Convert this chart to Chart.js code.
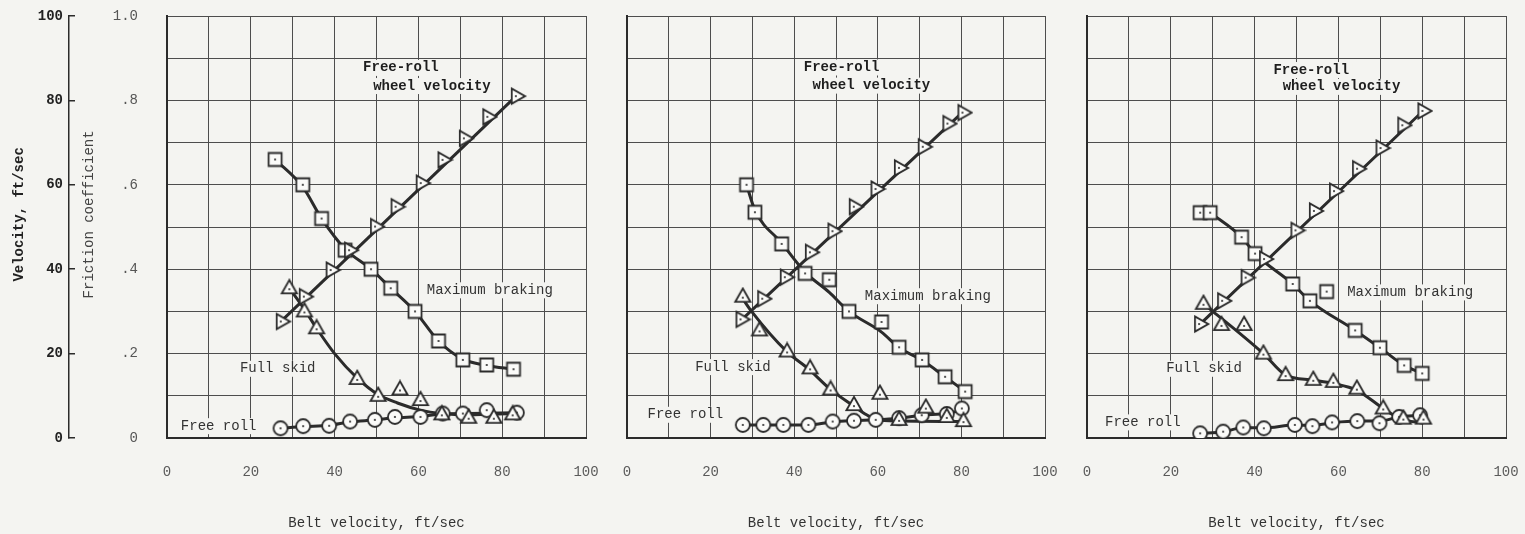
<!DOCTYPE html>
<html>
<head>
<meta charset="utf-8">
<script src="https://cdn.jsdelivr.net/npm/chart.js@4.4.1/dist/chart.umd.min.js"></script>
<style>
  body { margin: 0; background: #f4f4f1; width: 1525px; height: 534px; overflow: hidden; position: relative; }
  canvas { position: absolute; top: 0; }
</style>
</head>
<body>
<canvas id="panel1" width="600" height="534" style="left:0px"></canvas>
<canvas id="panel2" width="450" height="534" style="left:610px"></canvas>
<canvas id="panel3" width="455" height="534" style="left:1070px"></canvas>
<script>
// measured points: belt velocity (ft/sec) against wheel velocity (ft/sec) or friction coefficient
const p1WheelX = [27.4, 32.9, 39.3, 43.7, 49.9, 54.8, 60.8, 66.0, 71.1, 76.7, 83.5];
const p1WheelY = [27.6, 33.5, 39.8, 44.5, 50.1, 54.8, 60.4, 65.9, 71.0, 76.1, 81.0];
const p1BrakeX = [25.8, 32.4, 36.9, 42.5, 48.7, 53.4, 59.2, 64.8, 70.6, 76.3, 82.7];
const p1BrakeY = [.66, .60, .52, .445, .40, .355, .30, .23, .185, .173, .163];
const p1SkidX = [29.2, 32.8, 35.7, 45.4, 50.4, 55.6, 60.5, 65.6, 72.0, 78.0, 82.5];
const p1SkidY = [.355, .30, .26, .14, .10, .115, .09, .056, .048, .048, .056];
const p1FreeX = [27.1, 32.5, 38.7, 43.7, 49.6, 54.4, 60.5, 65.8, 70.6, 76.3, 83.5];
const p1FreeY = [.023, .028, .029, .039, .043, .05, .05, .058, .058, .066, .06];

const p2WheelX = [27.4, 32.6, 38.0, 44.0, 49.4, 54.5, 59.7, 65.3, 71.0, 76.9, 80.5];
const p2WheelY = [28.1, 33.0, 38.1, 44.0, 49.0, 54.8, 59.0, 64.0, 69.0, 74.5, 77.1];
const p2BrakeX = [28.6, 30.6, 37.0, 42.6, 48.4, 53.1, 60.9, 65.1, 70.6, 76.1, 80.9];
const p2BrakeY = [.60, .535, .46, .39, .375, .30, .275, .215, .185, .145, .11];
const p2SkidX = [27.7, 31.7, 38.3, 43.8, 48.7, 54.3, 60.5, 65.1, 71.5, 76.5, 80.5];
const p2SkidY = [.335, .255, .205, .165, .115, .078, .105, .043, .072, .05, .04];
const p2FreeX = [27.7, 32.6, 37.4, 43.4, 49.2, 54.3, 59.5, 65.1, 70.5, 76.5, 80.1];
const p2FreeY = [.031, .031, .031, .031, .039, .041, .043, .047, .054, .057, .07];

const p3WheelX = [27.0, 32.5, 38.1, 42.5, 50.0, 54.4, 59.2, 64.7, 70.3, 75.5, 80.3];
const p3WheelY = [27.0, 32.5, 38.0, 42.4, 49.2, 53.8, 58.5, 63.8, 68.7, 74.1, 77.5];
const p3BrakeX = [27.0, 29.4, 36.9, 40.1, 49.1, 53.2, 57.2, 64.0, 69.9, 75.7, 80.0];
const p3BrakeY = [.534, .534, .476, .437, .365, .325, .347, .255, .214, .172, .153];
const p3SkidX = [27.8, 32.1, 37.5, 42.1, 47.4, 54.0, 58.8, 64.4, 70.7, 75.5, 80.3];
const p3SkidY = [.318, .268, .268, .20, .149, .138, .133, .117, .07, .046, .046];
const p3FreeX = [27.0, 32.5, 37.3, 42.2, 49.6, 53.8, 58.5, 64.5, 69.8, 74.5, 79.5];
const p3FreeY = [.011, .015, .025, .023, .031, .028, .037, .04, .035, .05, .054];

// faired curves through the test points
const p1WheelCurve = [[27.4, 27.8], [83.5, 81.2]];
const p1BrakeCurve = [[25.8, .66], [32.4, .595], [36.9, .52], [42.5, .448], [48.7, .40], [53.4, .355], [59.2, .30], [64.8, .23], [70.6, .187], [76.3, .172], [82.7, .163]];
const p1SkidCurve = [[29.2, .355], [32.8, .305], [35.7, .26], [40, .20], [45.4, .142], [50.4, .103], [55, .083], [60.5, .066], [65.6, .058], [72, .055], [82.7, .058]];
const p1FreeCurve = [[27.1, .023], [32.5, .027], [38.7, .03], [43.7, .038], [49.6, .043], [54.4, .048], [60.5, .051], [65.8, .057], [72, .058], [83.5, .06]];

const p2WheelCurve = [[27.4, 28], [80.5, 77.4]];
const p2BrakeCurve = [[28.6, .60], [30.6, .54], [37, .462], [42.6, .393], [48.4, .345], [53.1, .30], [60.9, .251], [65.1, .214], [70.6, .184], [76.1, .145], [80.9, .11]];
const p2SkidCurve = [[27.7, .33], [29.8, .30], [38.3, .204], [43.4, .164], [48.6, .116], [54.2, .076], [57.3, .055], [59.7, .043], [65, .04], [80.4, .039]];
const p2FreeCurve = [[27.7, .031], [43.4, .031], [49.2, .038], [54.3, .041], [59.5, .043], [65.1, .047], [70.5, .054], [76.5, .058], [80.1, .066]];

const p3WheelCurve = [[27, 27], [80.3, 77.6]];
const p3BrakeCurve = [[29.4, .534], [36.9, .476], [40.1, .437], [49.1, .365], [53.2, .325], [64, .255], [69.9, .214], [75.7, .172], [80, .153]];
const p3SkidCurve = [[27.8, .318], [29.8, .302], [42.1, .20], [47.4, .149], [54, .137], [58.8, .129], [64.4, .113], [70.7, .07], [74.7, .046], [80.3, .035]];
const p3FreeCurve = [[27, .011], [32.5, .015], [37.3, .024], [42.2, .024], [49.6, .031], [53.8, .03], [58.5, .036], [64.5, .04], [69.8, .04], [74.5, .05], [79.5, .054]];

const velocityTicks = [0, 20, 40, 60, 80, 100];
const frictionTicks = ['0', '.2', '.4', '.6', '.8', '1.0'];
const beltTicks = ['0', '20', '40', '60', '80', '100'];

// curve labels, placed in belt velocity / wheel velocity units
const notes1 = [
    { text: 'Free-roll', x: 46.8, y: 87.7, bold: true },
    { text: 'wheel velocity', x: 49.2, y: 83.4, bold: true },
    { text: 'Maximum braking', x: 62, y: 35 },
    { text: 'Full skid', x: 17.4, y: 16.4 },
    { text: 'Free roll', x: 3.3, y: 2.8 }
];
const notes2 = [
    { text: 'Free-roll', x: 42.3, y: 87.8, bold: true },
    { text: 'wheel velocity', x: 44.4, y: 83.5, bold: true },
    { text: 'Maximum braking', x: 56.9, y: 33.6 },
    { text: 'Full skid', x: 16.3, y: 16.8 },
    { text: 'Free roll', x: 4.9, y: 5.5 }
];
const notes3 = [
    { text: 'Free-roll', x: 44.5, y: 87.2, bold: true },
    { text: 'wheel velocity', x: 46.7, y: 83.2, bold: true },
    { text: 'Maximum braking', x: 62.1, y: 34.5 },
    { text: 'Full skid', x: 18.9, y: 16.4 },
    { text: 'Free roll', x: 4.3, y: 3.7 }
];

const paper = '#f4f4f1';
const ink = '#2b2b2b';
const gridInk = '#4d4d4d';
const mono = '"Liberation Mono", "DejaVu Sans Mono", monospace';

// open plotting symbols with a centre dot
function symbol(kind) {
    const c = document.createElement('canvas');
    c.width = c.height = 20;
    const g = c.getContext('2d');
    g.translate(10, 10);
    g.beginPath();
    if (kind === 'circle') g.arc(0, 0, 7, 0, Math.PI * 2);
    else if (kind === 'square') g.rect(-6.5, -6.5, 13, 13);
    else { g.moveTo(0, -8.2); g.lineTo(7.6, 5.2); g.lineTo(-7.6, 5.2); g.closePath(); }
    g.fillStyle = '#fbfbf9';
    g.fill();
    g.lineWidth = 1.8;
    g.strokeStyle = ink;
    g.stroke();
    g.beginPath();
    g.arc(0, kind === 'triangle' ? 1 : 0, 1.1, 0, Math.PI * 2);
    g.fillStyle = ink;
    g.fill();
    return c;
}
const circleSym = symbol('circle');
const squareSym = symbol('square');
const triangleSym = symbol('triangle');

const toPoints = (xs, ys) => xs.map((x, i) => ({ x: x, y: ys[i] }));
const toCurve = (pairs) => pairs.map(p => ({ x: p[0], y: p[1] }));

function markers(xs, ys, sym, axis, rotation) {
    return {
        data: toPoints(xs, ys), yAxisID: axis, showLine: false,
        pointStyle: sym, pointRadius: 7, rotation: rotation || 0, order: 0
    };
}
function curve(pairs, axis) {
    return {
        data: toCurve(pairs), yAxisID: axis, showLine: true, pointRadius: 0,
        borderColor: ink, borderWidth: 3, cubicInterpolationMode: 'monotone', order: 1
    };
}

function notesFor(items) {
    return {
        id: 'notes',
        beforeDatasetsDraw(chart) {
            const { ctx, scales } = chart;
            ctx.save();
            ctx.textBaseline = 'middle';
            ctx.textAlign = 'left';
            items.forEach(n => {
                ctx.font = (n.bold ? 'bold ' : '') + '14px ' + mono;
                const x = scales.x.getPixelForValue(n.x);
                const y = scales.vel.getPixelForValue(n.y);
                const w = ctx.measureText(n.text).width;
                ctx.fillStyle = paper;
                ctx.fillRect(x - 3, y - 8, w + 6, 16);
                ctx.fillStyle = n.bold ? '#1e1e1e' : '#333';
                ctx.fillText(n.text, x, y);
            });
            ctx.restore();
        }
    };
}

// keep the chart area where the layout padding puts it
function noEdgePadding(s) {
    s.paddingTop = 0;
    s.paddingBottom = 0;
    s.paddingLeft = 0;
    s.paddingRight = 0;
}

function panel(id, sets, notes, withAxes, pad) {
    const datasets = [
        markers(sets.wheel[0], sets.wheel[1], triangleSym, 'vel', 90),
        markers(sets.brake[0], sets.brake[1], squareSym, 'mu'),
        markers(sets.skid[0], sets.skid[1], triangleSym, 'mu'),
        markers(sets.free[0], sets.free[1], circleSym, 'mu'),
        curve(sets.wheelCurve, 'vel'),
        curve(sets.brakeCurve, 'mu'),
        curve(sets.skidCurve, 'mu'),
        curve(sets.freeCurve, 'mu')
    ];
    new Chart(document.getElementById(id), {
        type: 'scatter',
        data: { datasets: datasets },
        plugins: [notesFor(notes)],
        options: {
            responsive: false,
            animation: false,
            layout: { padding: { left: pad[0], right: pad[1], top: 16, bottom: 0 } },
            plugins: { legend: { display: false }, tooltip: { enabled: false } },
            scales: {
                x: {
                    type: 'linear', min: 0, max: 100,
                    ticks: {
                        stepSize: 10, autoSkip: false, maxRotation: 0, padding: 26,
                        color: '#5a5a5a', font: { family: mono, size: 14 },
                        callback: v => (v % 20 === 0 ? beltTicks[v / 20] : '')
                    },
                    grid: { color: gridInk, lineWidth: 1, drawTicks: false },
                    border: { color: ink, width: 2 },
                    title: {
                        display: true, text: 'Belt velocity, ft/sec', color: '#333',
                        font: { family: mono, size: 14 }, padding: { top: 0, bottom: 2 }
                    },
                    afterFit: s => { s.height = 96; noEdgePadding(s); }
                },
                mu: {
                    type: 'linear', position: 'left', min: 0, max: 1,
                    ticks: {
                        display: withAxes, stepSize: 0.1, autoSkip: false, padding: 29,
                        color: '#555', font: { family: mono, size: 14 },
                        callback: v => {
                            const k = Math.round(v * 10);
                            return k % 2 === 0 ? frictionTicks[k / 2] : '';
                        }
                    },
                    grid: { color: gridInk, lineWidth: 1, drawTicks: false },
                    border: { color: ink, width: 2 },
                    title: {
                        display: withAxes, text: '   Friction coefficient', color: '#444',
                        font: { family: mono, size: 14 }, padding: { top: 11.6, bottom: 0 }
                    },
                    afterFit: s => { s.width = withAxes ? 98 : 0; noEdgePadding(s); }
                },
                vel: {
                    type: 'linear', position: 'left', min: 0, max: 100, weight: 1,
                    display: withAxes,
                    afterBuildTicks: s => { s.ticks = velocityTicks.map(v => ({ value: v })); },
                    ticks: { padding: 12, color: '#222', font: { family: mono, size: 14, weight: 'bold' } },
                    grid: { drawOnChartArea: false, tickLength: -6, color: ink, lineWidth: 1.5 },
                    border: { color: ink, width: 1.5 },
                    title: {
                        display: true, text: '   Velocity, ft/sec', color: '#222',
                        font: { family: mono, size: 14, weight: 'bold' }, padding: { top: 2.6, bottom: 0 }
                    },
                    afterFit: s => { s.width = withAxes ? 61 : 0; noEdgePadding(s); }
                }
            }
        }
    });
}

panel('panel1', {
    wheel: [p1WheelX, p1WheelY], brake: [p1BrakeX, p1BrakeY],
    skid: [p1SkidX, p1SkidY], free: [p1FreeX, p1FreeY],
    wheelCurve: p1WheelCurve, brakeCurve: p1BrakeCurve, skidCurve: p1SkidCurve, freeCurve: p1FreeCurve
}, notes1, true, [8, 14]);

panel('panel2', {
    wheel: [p2WheelX, p2WheelY], brake: [p2BrakeX, p2BrakeY],
    skid: [p2SkidX, p2SkidY], free: [p2FreeX, p2FreeY],
    wheelCurve: p2WheelCurve, brakeCurve: p2BrakeCurve, skidCurve: p2SkidCurve, freeCurve: p2FreeCurve
}, notes2, false, [17, 15]);

panel('panel3', {
    wheel: [p3WheelX, p3WheelY], brake: [p3BrakeX, p3BrakeY],
    skid: [p3SkidX, p3SkidY], free: [p3FreeX, p3FreeY],
    wheelCurve: p3WheelCurve, brakeCurve: p3BrakeCurve, skidCurve: p3SkidCurve, freeCurve: p3FreeCurve
}, notes3, false, [17, 19]);
</script>
</body>
</html>
